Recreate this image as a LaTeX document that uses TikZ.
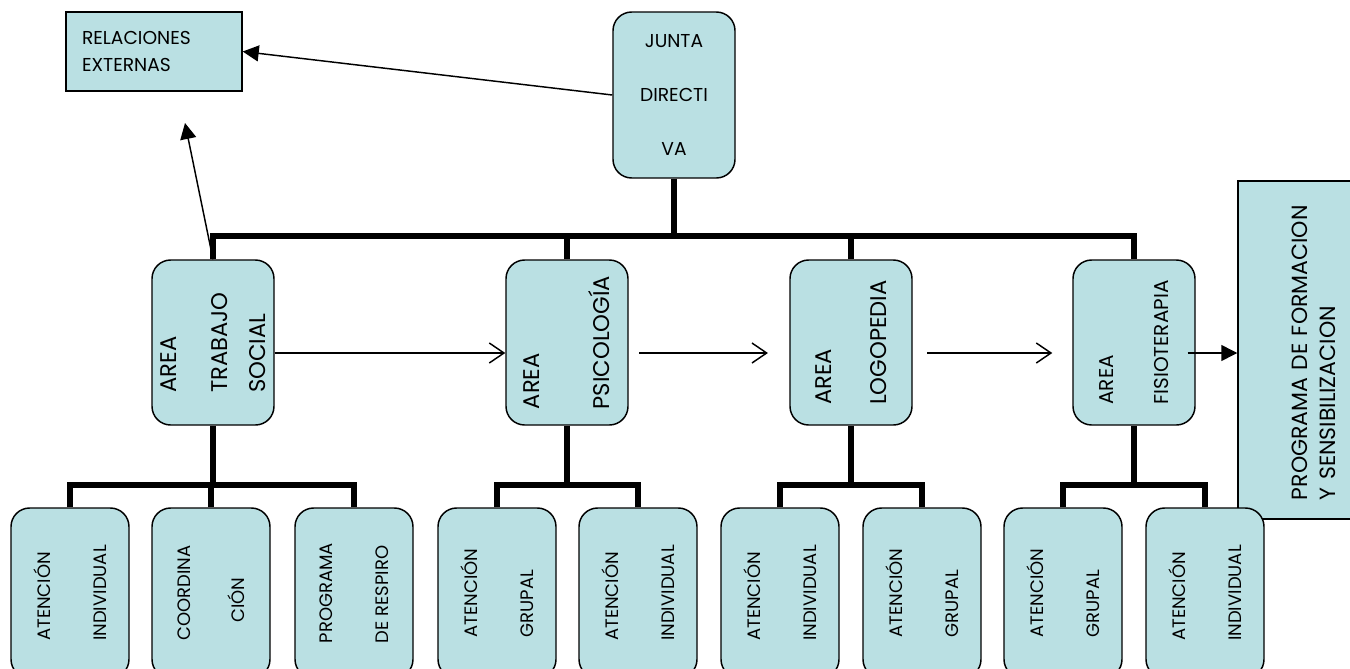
\documentclass[tikz,border=0pt]{standalone}
\usepackage{fontspec}
\setmainfont{Poppins}
\usetikzlibrary{arrows.meta}
\definecolor{cajas}{RGB}{186,224,227}

\begin{document}
\begin{tikzpicture}[x=0.75pt,y=-0.75pt,
    caja/.style={draw, line width=1.1pt, fill=cajas, inner sep=0pt},
    redonda/.style={caja, rounded corners=14pt},
    area/.style={redonda, rotate=90, align=left, minimum width=123.75pt, minimum height=91.5pt, font=\fontsize{17}{20.4}\selectfont},
    hijo/.style={redonda, rotate=90, align=left, minimum width=127.5pt, minimum height=88.5pt, font=\fontsize{13.5}{16.2}\selectfont},
    arbol/.style={line width=4.5pt},
    flecha/.style={line width=1.1pt, -{Straight Barb[length=11pt,width=15pt]}},
    flechan/.style={line width=1.1pt, -{Triangle[length=12pt,width=12pt]}}]
\useasboundingbox (0,0) rectangle (1350,668);

% direccion
\node[redonda, minimum width=91.5pt, minimum height=124.5pt, align=center, font=\fontsize{14}{16.8}\selectfont] (jd) at (674,95) {JUNTA\\[24pt]DIRECTI\\[24pt]VA};
\node[caja, minimum width=132pt, minimum height=59.25pt, text width=108pt, align=left, font=\fontsize{14}{16.8}\selectfont] (re) at (154,51.5) {RELACIONES\\[3pt]EXTERNAS};
\node[caja, rotate=90, minimum width=253.5pt, minimum height=114pt, text width=225pt, align=left, font=\fontsize{16.5}{19.8}\selectfont] (pf) at (1314,350) {PROGRAMA DE FORMACION\\[1pt]Y SENSIBILIZACION};

% areas
\node[area] (ts) at (213,342.5) {AREA\\[18pt]TRABAJO\\[8pt]SOCIAL};
\node[area] (ps) at (567,342.5) {AREA\\[32pt]PSICOLOGÍA};
\node[area] (lg) at (851,342.5) {AREA\\[21pt]LOGOPEDIA};
\node[area, font=\fontsize{15}{18}\selectfont] (fs) at (1134,342.5) {AREA\\[23pt]FISIOTERAPIA};

% servicios
\foreach \n/\x/\t in {a1/70/{ATENCIÓN\\[26pt]INDIVIDUAL}, a2/211/{COORDINA\\[24pt]\quad CIÓN},
    a3/354/{PROGRAMA\\[26pt]DE RESPIRO}, b1/497/{ATENCIÓN\\[26pt]GRUPAL},
    b2/638/{ATENCIÓN\\[26pt]INDIVIDUAL}, c1/780/{ATENCIÓN\\[26pt]INDIVIDUAL},
    c2/922/{ATENCIÓN\\[26pt]GRUPAL}, d1/1063/{ATENCIÓN\\[26pt]GRUPAL},
    d2/1205/{ATENCIÓN\\[26pt]INDIVIDUAL}}
  \node[hijo] (\n) at (\x,593) {\t};

% organigrama
\coordinate (bus) at (674,236);
\draw[arbol] (jd.south) -- (bus);
\foreach \a in {ts,ps,lg,fs}
  \draw[arbol] (\a.east) |- (bus);

\coordinate (bts) at (213,485);
\coordinate (bps) at (567,485);
\coordinate (blg) at (851,485);
\coordinate (bfs) at (1134,485);
\draw[arbol] (ts.west) -- (bts);
\draw[arbol] (ps.west) -- (bps);
\draw[arbol] (lg.west) -- (blg);
\draw[arbol] (fs.west) -- (bfs);
\foreach \k in {a1,a2,a3} \draw[arbol] (\k.east) |- (bts);
\foreach \k in {b1,b2} \draw[arbol] (\k.east) |- (bps);
\foreach \k in {c1,c2} \draw[arbol] (\k.east) |- (blg);
\foreach \k in {d1,d2} \draw[arbol] (\k.east) |- (bfs);

% flechas
\coordinate (rel) at (185,123);
\coordinate (eje) at (0,353);
\draw[flechan] (jd.west) -- (re.east);
\draw[flechan] (ts.east) -- (rel);
\draw[flecha] (ts.south |- eje) -- (ps.north |- eje);
\draw[flecha, shorten <=8pt, shorten >=16pt] (ps.south |- eje) -- (lg.north |- eje);
\draw[flecha, shorten <=11pt, shorten >=15pt] (lg.south |- eje) -- (fs.north |- eje);
\draw[flechan, shorten <=-6pt] (fs.south |- eje) -- (pf.north |- eje);
\end{tikzpicture}
\end{document}
